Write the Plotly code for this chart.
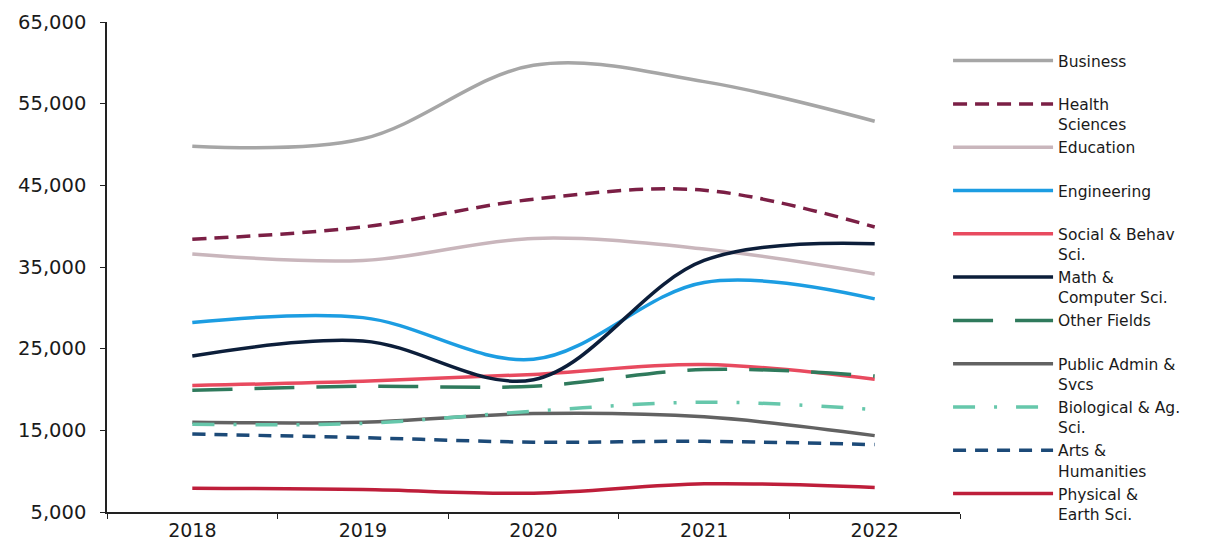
import plotly.graph_objects as go

years = ["2018", "2019", "2020", "2021", "2022"]

business = [49800, 50700, 59700, 57700, 52850]
health_sciences = [38400, 39900, 43300, 44400, 39900]
education = [36600, 35800, 38500, 37200, 34150]
engineering = [28200, 28800, 23700, 33100, 31100]
social_behav = [20500, 21000, 21850, 23050, 21250]
math_cs = [24100, 25950, 21200, 35800, 37850]
other_fields = [19900, 20400, 20400, 22450, 21650]
public_admin = [16000, 16000, 17050, 16650, 14350]
biological = [15750, 15850, 17350, 18450, 17550]
arts_humanities = [14550, 14100, 13550, 13650, 13250]
physical_earth = [7900, 7750, 7300, 8450, 8000]

series = [
    ("Business<br>&nbsp;", business, "#A6A6A6", "solid"),
    ("Health<br>Sciences", health_sciences, "#7B1F45", "14px,8px"),
    ("Education<br>&nbsp;", education, "#C9B6BC", "solid"),
    ("Engineering<br>&nbsp;", engineering, "#1C9DE2", "solid"),
    ("Social & Behav<br>Sci.", social_behav, "#E84A5F", "solid"),
    ("Math &<br>Computer Sci.", math_cs, "#0C1E3A", "solid"),
    ("Other Fields<br>&nbsp;", other_fields, "#2F7A5C", "40px,22px"),
    ("Public Admin &<br>Svcs", public_admin, "#626262", "solid"),
    ("Biological & Ag.<br>Sci.", biological, "#66C7AB", "22px,19px,3px,19px"),
    ("Arts &<br>Humanities", arts_humanities, "#1C4A78", "13px,9px"),
    ("Physical &<br>Earth Sci.", physical_earth, "#BE1E3A", "solid"),
]

fig = go.Figure()
for name, vals, color, dash in series:
    fig.add_trace(go.Scatter(
        x=years, y=vals, name=name, mode="lines",
        line=dict(color=color, width=3.5, dash=dash, shape="spline", smoothing=1.0),
    ))

font_family = "DejaVu Sans, sans-serif"

fig.update_layout(
    width=1215, height=548,
    margin=dict(l=99, r=263, t=14, b=44),
    paper_bgcolor="white", plot_bgcolor="white",
    font=dict(family=font_family, color="#1a1a1a"),
    showlegend=True,
    legend=dict(
        x=0.986, xanchor="left", y=0.955, yanchor="top",
        itemwidth=100, valign="top", tracegroupgap=0,
        font=dict(size=15.5, family=font_family, color="#1a1a1a"),
        bgcolor="rgba(0,0,0,0)",
    ),
    xaxis=dict(
        type="category", range=[-0.5, 4.5],
        showline=True, linecolor="#222222", linewidth=1.5,
        ticks="outside", tickson="boundaries", ticklen=5, tickcolor="#222222",
        showgrid=False, zeroline=False, automargin=False,
        tickfont=dict(size=19, family=font_family, color="#1a1a1a"),
    ),
    yaxis=dict(
        range=[5000, 65000], dtick=10000, tick0=5000, tickformat=",",
        showline=True, linecolor="#222222", linewidth=1.5,
        ticks="outside", ticklen=5, tickcolor="#222222",
        showgrid=False, zeroline=False, automargin=False,
        tickfont=dict(size=19.5, family=font_family, color="#1a1a1a"),
        ticklabelstandoff=10,
    ),
)

fig.write_html("out.html")
